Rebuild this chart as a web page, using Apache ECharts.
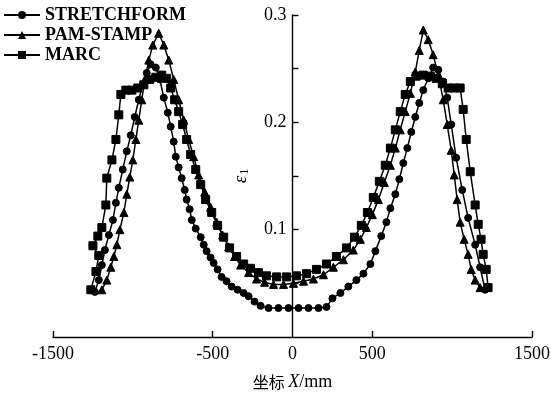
<!DOCTYPE html>
<html>
<head>
<meta charset="utf-8">
<script src="https://cdn.jsdelivr.net/npm/echarts@6/dist/echarts.min.js"></script>
<style>
html,body{margin:0;padding:0;background:#fff;}
#chart{width:551px;height:393px;}
</style>
</head>
<body>
<div id="chart"></div>
<script>
// Series names
const seriesNames = ['STRETCHFORM', 'PAM-STAMP', 'MARC'];

// STRETCHFORM (circles)
const xStretch = [-1238,-1213,-1194,-1175,-1150,-1125,-1106,-1088,-1063,-1038,-1013,-988,-963,-938,-913,-888,-856,-831,-806,-781,-763,-744,-731,-713,-694,-675,-663,-644,-631,-606,-575,-556,-538,-513,-494,-469,-444,-413,-381,-344,-306,-275,-238,-200,-150,-88,-25,38,100,163,213,250,300,350,400,444,488,519,556,588,613,644,669,694,719,744,769,794,819,850,881,913,944,969,994,1025,1063,1100,1144,1175,1206];
const yStretch = [0.042,0.053,0.067,0.081,0.095,0.109,0.125,0.139,0.156,0.173,0.188,0.205,0.221,0.235,0.246,0.254,0.251,0.240,0.223,0.209,0.196,0.182,0.168,0.158,0.148,0.137,0.128,0.119,0.109,0.101,0.093,0.086,0.080,0.074,0.069,0.063,0.056,0.052,0.047,0.044,0.041,0.038,0.033,0.029,0.027,0.027,0.027,0.027,0.027,0.027,0.028,0.036,0.041,0.047,0.053,0.059,0.068,0.080,0.094,0.107,0.120,0.133,0.147,0.162,0.176,0.191,0.205,0.218,0.230,0.241,0.251,0.249,0.238,0.223,0.198,0.167,0.137,0.111,0.086,0.065,0.044];

// PAM-STAMP (triangles)
const xPam = [-1194,-1163,-1138,-1119,-1100,-1081,-1056,-1038,-1019,-1000,-981,-963,-944,-925,-900,-875,-838,-806,-775,-744,-713,-681,-650,-619,-588,-550,-513,-475,-438,-400,-363,-325,-275,-225,-175,-119,-56,6,69,131,194,256,319,381,425,463,500,538,575,613,644,675,706,738,769,794,819,850,881,913,944,969,994,1013,1031,1050,1075,1100,1119,1144,1175];
const yPam = [0.044,0.053,0.065,0.075,0.086,0.100,0.116,0.133,0.149,0.165,0.184,0.202,0.221,0.240,0.258,0.272,0.283,0.272,0.258,0.240,0.221,0.202,0.184,0.168,0.151,0.135,0.121,0.107,0.095,0.084,0.075,0.067,0.060,0.054,0.051,0.049,0.049,0.050,0.052,0.054,0.058,0.065,0.072,0.081,0.091,0.102,0.114,0.128,0.144,0.160,0.176,0.193,0.210,0.227,0.247,0.267,0.286,0.277,0.263,0.244,0.221,0.198,0.174,0.151,0.128,0.107,0.091,0.077,0.063,0.053,0.046];

// MARC (squares)
const xMarc = [-1263,-1231,-1213,-1250,-1219,-1194,-1169,-1163,-1131,-1106,-1088,-1075,-1044,-1006,-969,-931,-894,-856,-819,-788,-763,-738,-713,-688,-663,-638,-606,-575,-544,-506,-469,-431,-394,-350,-306,-263,-213,-163,-100,-38,25,88,150,213,275,338,388,431,469,506,544,581,613,644,675,706,738,775,819,863,900,938,975,1013,1050,1069,1088,1113,1144,1163,1181,1194,1213,1225];
const yMarc = [0.044,0.061,0.076,0.085,0.094,0.102,0.123,0.148,0.165,0.184,0.207,0.226,0.230,0.230,0.232,0.235,0.240,0.242,0.244,0.241,0.232,0.221,0.210,0.198,0.184,0.170,0.156,0.142,0.128,0.116,0.104,0.093,0.083,0.075,0.068,0.064,0.060,0.057,0.056,0.056,0.057,0.059,0.063,0.068,0.075,0.083,0.093,0.104,0.116,0.130,0.145,0.160,0.176,0.193,0.210,0.226,0.238,0.243,0.244,0.243,0.241,0.236,0.232,0.232,0.232,0.212,0.184,0.154,0.123,0.105,0.091,0.077,0.063,0.046];

// Axis ticks / labels
const xTickValues = [-1500, -500, 500, 1500];
const xLabelValues = [-1500, -500, 0, 500, 1500];
const yTickValues = [0.05, 0.1, 0.15, 0.2, 0.25, 0.3];
const yLabelValues = [0.1, 0.2, 0.3];

const serif = "'Liberation Serif','Times New Roman',serif";
const zip = (xs, ys) => xs.map((v, i) => [v, ys[i]]);

const GRID_LEFT = 53, GRID_RIGHT = 19;
const chartW = 551;
const plotW = chartW - GRID_LEFT - GRID_RIGHT;

const chart = echarts.init(document.getElementById('chart'), null, {renderer: 'canvas'});
const symbols = ['circle', 'triangle', 'rect'];
const sizes = [7, 8, 8];
const datas = [zip(xStretch, yStretch), zip(xPam, yPam), zip(xMarc, yMarc)];

chart.setOption({
  animation: false,
  backgroundColor: '#fff',
  grid: {left: GRID_LEFT, right: GRID_RIGHT, top: 15, bottom: 56, outerBoundsMode: 'none', containLabel: false},
  legend: {
    left: -2, top: 1, orient: 'vertical',
    itemWidth: 36, itemHeight: 10, itemGap: 2,
    textStyle: {fontFamily: serif, fontWeight: 'bold', fontSize: 18, lineHeight: 18, color: '#000'},
    data: seriesNames
  },
  xAxis: {
    type: 'value', min: -1500, max: 1500,
    name: '{c|坐标 }{i|X}{n|/mm}', nameLocation: 'middle', nameGap: 36,
    nameTextStyle: {
      rich: {
        c: {fontFamily: "'Noto Sans CJK SC'", fontSize: 16, color: '#000'},
        i: {fontFamily: serif, fontStyle: 'italic', fontSize: 18, color: '#000'},
        n: {fontFamily: serif, fontSize: 18, color: '#000'}
      }
    },
    axisLine: {show: true, onZero: false, lineStyle: {color: '#000', width: 1.4}},
    axisTick: {show: true, inside: true, length: 6, customValues: xTickValues, lineStyle: {color: '#000', width: 1.4}},
    axisLabel: {customValues: xLabelValues, fontFamily: serif, fontSize: 18, color: '#000', margin: 8,
      formatter: v => String(v)},
    splitLine: {show: false}
  },
  yAxis: {
    type: 'value', min: 0, max: 0.3, position: 'left',
    offset: -plotW / 2,
    name: '{e|ε}{s|1}', nameLocation: 'middle', nameGap: 42, nameRotate: 90,
    nameTextStyle: {
      rich: {
        e: {fontFamily: serif, fontStyle: 'italic', fontSize: 19, color: '#000'},
        s: {fontFamily: serif, fontSize: 12, color: '#000', padding: [8, 0, 0, 1]}
      }
    },
    axisLine: {show: true, onZero: false, lineStyle: {color: '#000', width: 1.4}},
    axisTick: {show: true, inside: true, length: 6, customValues: yTickValues, lineStyle: {color: '#000', width: 1.4}},
    axisLabel: {customValues: yLabelValues, fontFamily: serif, fontSize: 18, color: '#000', margin: 6,
      formatter: v => v.toFixed(1)},
    splitLine: {show: false}
  },
  series: seriesNames.map((name, k) => ({
    name: name,
    type: 'line',
    data: datas[k],
    symbol: symbols[k],
    symbolSize: sizes[k],
    showAllSymbol: true,
    lineStyle: {color: '#000', width: 1.5},
    itemStyle: {color: '#000', borderColor: '#000'},
    emphasis: {disabled: true}
  }))
});
</script>
</body>
</html>
